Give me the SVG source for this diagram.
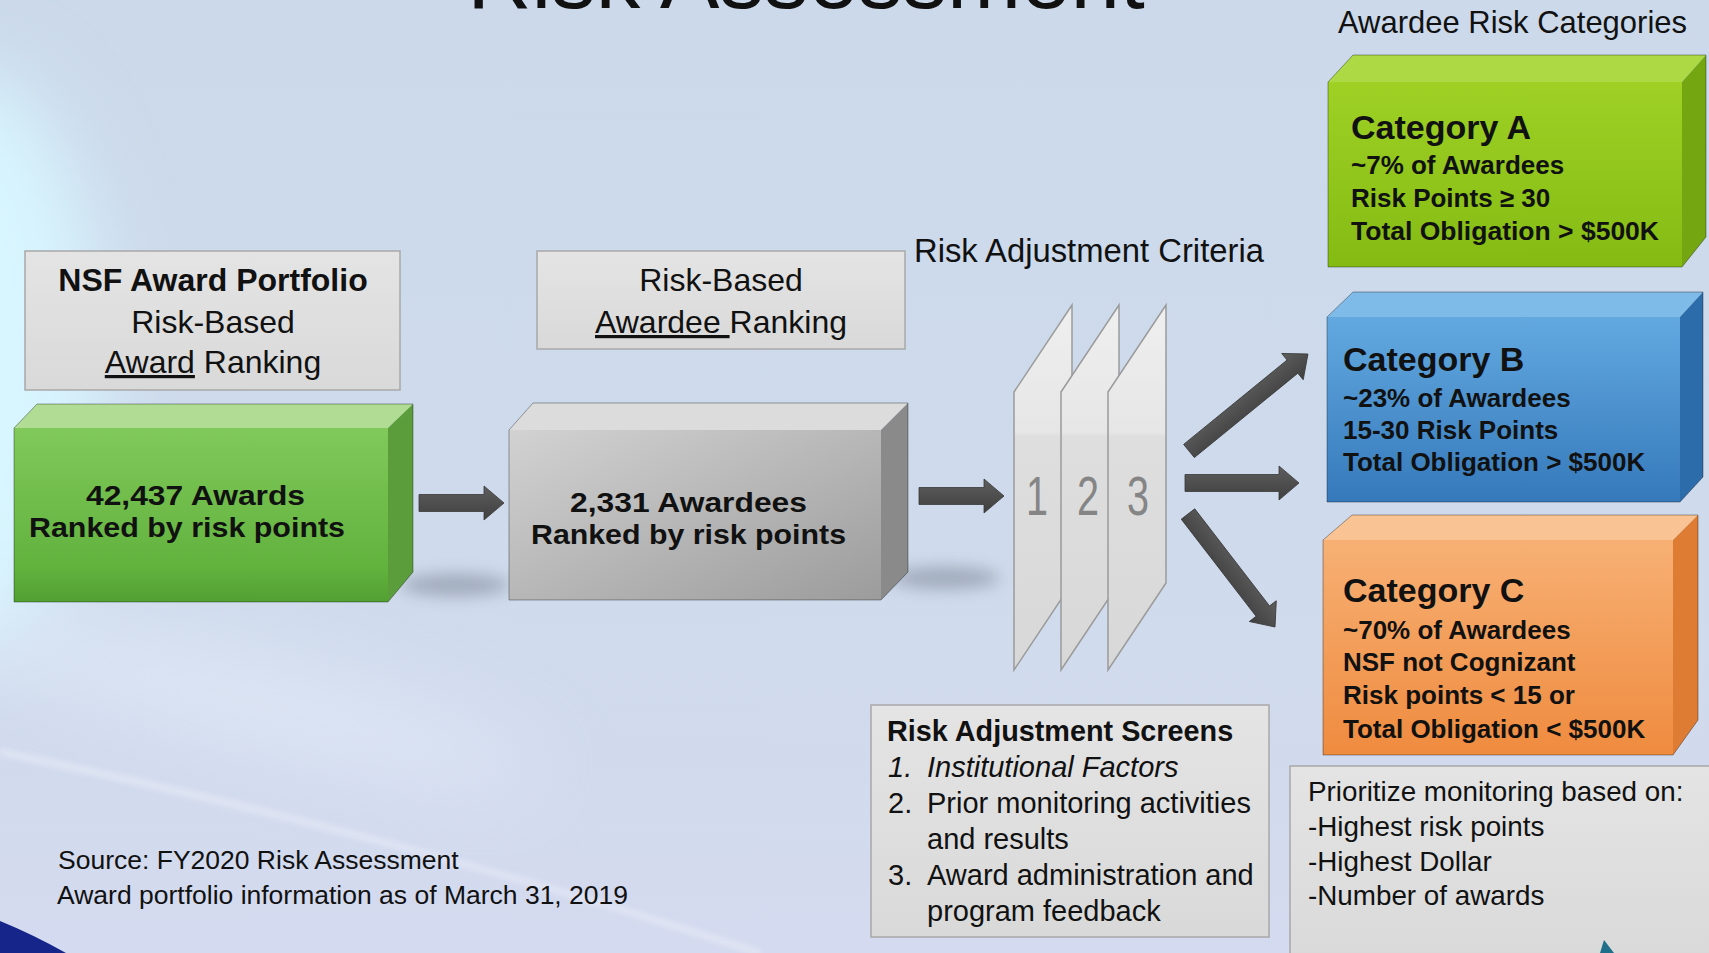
<svg xmlns="http://www.w3.org/2000/svg" width="1709" height="953" viewBox="0 0 1709 953">
<defs>
<style>
.t{font-family:"Liberation Sans",Arial,sans-serif;fill:#111}
.b{font-weight:bold}
.lbl{fill:url(#gLabel);stroke:#a8a8a8;stroke-width:1.5}
.arrow{fill:url(#gArrow);stroke:#383838;stroke-width:0.8}
.panel{fill:url(#gPanel);stroke:#9a9a9a;stroke-width:1.5}
.num{font-family:"Liberation Sans",Arial,sans-serif;fill:#858585;font-size:55px}
.edge{fill:none;stroke:#000;stroke-opacity:0.35;stroke-width:1}
.ul{text-decoration:underline}
</style>
<linearGradient id="gBg" x1="0" y1="0" x2="0" y2="1">
<stop offset="0" stop-color="#cbd9ea"/>
<stop offset="0.6" stop-color="#cfdbec"/>
<stop offset="1" stop-color="#d4daef"/>
</linearGradient>
<linearGradient id="gLabel" x1="0" y1="0" x2="0" y2="1">
<stop offset="0" stop-color="#e4e4e4"/>
<stop offset="1" stop-color="#d9d9d9"/>
</linearGradient>
<linearGradient id="gArrow" x1="0" y1="0" x2="0" y2="1">
<stop offset="0" stop-color="#5e5e5e"/>
<stop offset="1" stop-color="#3f3f3f"/>
</linearGradient>
<linearGradient id="gPanel" x1="0" y1="0" x2="0" y2="1">
<stop offset="0" stop-color="#efefef"/>
<stop offset="0.35" stop-color="#e6e6e6"/>
<stop offset="0.36" stop-color="#dedede"/>
<stop offset="1" stop-color="#d8d8d8"/>
</linearGradient>
<linearGradient id="gGreenF" x1="0" y1="0" x2="0" y2="1">
<stop offset="0" stop-color="#80c95a"/>
<stop offset="0.8" stop-color="#62b23e"/>
<stop offset="1" stop-color="#52a032"/>
</linearGradient>
<linearGradient id="gGrayF" x1="0" y1="0" x2="1" y2="1">
<stop offset="0" stop-color="#d2d2d2"/>
<stop offset="1" stop-color="#9c9c9c"/>
</linearGradient>
<linearGradient id="gAF" x1="0" y1="0" x2="0" y2="1">
<stop offset="0" stop-color="#9fd125"/>
<stop offset="1" stop-color="#84bb13"/>
</linearGradient>
<linearGradient id="gBF" x1="0" y1="0" x2="0" y2="1">
<stop offset="0" stop-color="#63a9e0"/>
<stop offset="1" stop-color="#3579bb"/>
</linearGradient>
<linearGradient id="gCF" x1="0" y1="0" x2="0" y2="1">
<stop offset="0" stop-color="#f7b074"/>
<stop offset="1" stop-color="#ef8b3f"/>
</linearGradient>
<filter id="blur40" x="-1" y="-1" width="3" height="3"><feGaussianBlur stdDeviation="40"/></filter>
<filter id="blur8" x="-1" y="-1" width="3" height="3"><feGaussianBlur stdDeviation="8"/></filter>
<filter id="blur3" x="-1" y="-1" width="3" height="3"><feGaussianBlur stdDeviation="3"/></filter>
</defs>

<!-- background -->
<rect x="0" y="0" width="1709" height="953" fill="url(#gBg)"/>
<ellipse cx="-40" cy="360" rx="140" ry="290" fill="#d8f6ff" filter="url(#blur40)"/>
<ellipse cx="250" cy="700" rx="300" ry="40" fill="#e6eefa" opacity="0.6" transform="rotate(14 250 700)" filter="url(#blur40)"/>
<path d="M0,752 Q380,830 760,953" fill="none" stroke="#ffffff" stroke-width="4" opacity="0.5" filter="url(#blur3)"/>
<path d="M0,921 Q32,934 66,953 L0,953 Z" fill="#15258a"/>

<!-- title (cropped at top edge, as in the reference) -->
<text class="t" x="806" y="8" font-size="89" text-anchor="middle">Risk Assessment</text>

<!-- shadows -->
<ellipse cx="455" cy="585" rx="55" ry="11" fill="#4a5060" opacity="0.35" filter="url(#blur8)"/>
<ellipse cx="945" cy="578" rx="55" ry="11" fill="#4a5060" opacity="0.35" filter="url(#blur8)"/>

<g id="label-award-ranking">
<rect class="lbl" x="25" y="251" width="375" height="139"/>
<text class="t b" x="213" y="291" font-size="32" text-anchor="middle">NSF Award Portfolio</text>
<text class="t" x="213" y="333" font-size="32" text-anchor="middle">Risk-Based</text>
<text class="t" x="213" y="373" font-size="32" text-anchor="middle"><tspan class="ul">Award</tspan> Ranking</text>
</g>

<g id="label-awardee-ranking">
<rect class="lbl" x="537" y="251" width="368" height="98"/>
<text class="t" x="721" y="291" font-size="32" text-anchor="middle">Risk-Based</text>
<text class="t" x="721" y="333" font-size="32" text-anchor="middle"><tspan class="ul">Awardee </tspan>Ranking</text>
</g>

<g id="box-awards">
<rect x="14" y="428" width="374" height="174" fill="url(#gGreenF)"/>
<polygon points="14,428 37,404 413,404 388,428" fill="#b0dc93"/>
<polygon points="388,428 413,404 413,572 388,602" fill="#5b9d3b"/>
<polygon class="edge" points="14,428 37,404 413,404 413,572 388,602 14,602"/>
<text class="t b" x="86" y="505" font-size="28" textLength="219" lengthAdjust="spacingAndGlyphs" fill="#1c2a12">42,437 Awards</text>
<text class="t b" x="29" y="537" font-size="28" textLength="316" lengthAdjust="spacingAndGlyphs" fill="#1c2a12">Ranked by risk points</text>
</g>

<g id="box-awardees">
<rect x="509" y="430" width="372" height="170" fill="url(#gGrayF)"/>
<polygon points="509,430 533,403 908,403 881,430" fill="#dcdcdc"/>
<polygon points="881,430 908,403 908,572 881,600" fill="#8a8a8a"/>
<polygon class="edge" points="509,430 533,403 908,403 908,572 881,600 509,600"/>
<text class="t b" x="570" y="512" font-size="28" textLength="237" lengthAdjust="spacingAndGlyphs">2,331 Awardees</text>
<text class="t b" x="531" y="544" font-size="28" textLength="315" lengthAdjust="spacingAndGlyphs">Ranked by risk points</text>
</g>

<g id="criteria-label">
<text class="t" x="914" y="262" font-size="32.8">Risk Adjustment Criteria</text>
</g>

<g id="criteria-panels">
<polygon class="panel" points="1014,392 1072,305 1072,583 1014,670"/>
<polygon class="panel" points="1061,392 1119,305 1119,583 1061,670"/>
<polygon class="panel" points="1108,392 1166,305 1166,583 1108,670"/>
<text class="num" text-anchor="middle" transform="translate(1037,515) scale(0.72,1)">1</text>
<text class="num" text-anchor="middle" transform="translate(1088,515) scale(0.72,1)">2</text>
<text class="num" text-anchor="middle" transform="translate(1138,515) scale(0.72,1)">3</text>
</g>

<g id="categories-title">
<text class="t" x="1338" y="33" font-size="32" textLength="349" lengthAdjust="spacingAndGlyphs">Awardee Risk Categories</text>
</g>

<g id="category-a">
<rect x="1328" y="82" width="354" height="185" fill="url(#gAF)"/>
<polygon points="1328,82 1353,55 1706,55 1682,82" fill="#acd944"/>
<polygon points="1682,82 1706,55 1706,237 1682,267" fill="#74a611"/>
<polygon class="edge" points="1328,82 1353,55 1706,55 1706,237 1682,267 1328,267"/>
<text class="t b" x="1351" y="139" font-size="34">Category A</text>
<text class="t b" x="1351" y="174" font-size="26">~7% of Awardees</text>
<text class="t b" x="1351" y="207" font-size="26">Risk Points ≥ 30</text>
<text class="t b" x="1351" y="240" font-size="26.5">Total Obligation &gt; $500K</text>
</g>

<g id="category-b">
<rect x="1327" y="317" width="353" height="185" fill="url(#gBF)"/>
<polygon points="1327,317 1353,292 1703,292 1680,317" fill="#7fbbe8"/>
<polygon points="1680,317 1703,292 1703,477 1680,502" fill="#2d6cab"/>
<polygon class="edge" points="1327,317 1353,292 1703,292 1703,477 1680,502 1327,502"/>
<text class="t b" x="1343" y="371" font-size="34">Category B</text>
<text class="t b" x="1343" y="407" font-size="26">~23% of Awardees</text>
<text class="t b" x="1343" y="439" font-size="26">15-30 Risk Points</text>
<text class="t b" x="1343" y="471" font-size="26">Total Obligation &gt; $500K</text>
</g>

<g id="category-c">
<rect x="1323" y="540" width="350" height="215" fill="url(#gCF)"/>
<polygon points="1323,540 1352,515 1698,515 1673,540" fill="#f9c393"/>
<polygon points="1673,540 1698,515 1698,720 1673,755" fill="#df7c33"/>
<polygon class="edge" points="1323,540 1352,515 1698,515 1698,720 1673,755 1323,755"/>
<text class="t b" x="1343" y="602" font-size="34">Category C</text>
<text class="t b" x="1343" y="639" font-size="26">~70% of Awardees</text>
<text class="t b" x="1343" y="671" font-size="26">NSF not Cognizant</text>
<text class="t b" x="1343" y="704" font-size="26">Risk points &lt; 15 or</text>
<text class="t b" x="1343" y="738" font-size="26">Total Obligation &lt; $500K</text>
</g>

<g id="screens-box">
<rect class="lbl" x="871" y="705" width="398" height="232"/>
<text class="t b" x="887" y="741" font-size="28.8">Risk Adjustment Screens</text>
<text class="t" x="888" y="777" font-size="29" font-style="italic">1.</text>
<text class="t" x="927" y="777" font-size="29" font-style="italic">Institutional Factors</text>
<text class="t" x="888" y="813" font-size="29">2.</text>
<text class="t" x="927" y="813" font-size="29">Prior monitoring activities</text>
<text class="t" x="927" y="849" font-size="29">and results</text>
<text class="t" x="888" y="885" font-size="29">3.</text>
<text class="t" x="927" y="885" font-size="29">Award administration and</text>
<text class="t" x="927" y="921" font-size="29">program feedback</text>
</g>

<g id="prioritize-box">
<rect class="lbl" x="1290" y="766" width="440" height="200"/>
<text class="t" x="1308" y="801" font-size="27.8">Prioritize monitoring based on:</text>
<text class="t" x="1308" y="836" font-size="27.8">-Highest risk points</text>
<text class="t" x="1308" y="871" font-size="27.8">-Highest Dollar</text>
<text class="t" x="1308" y="905" font-size="27.8">-Number of awards</text>
<polygon points="1604,940 1614,953 1600,953" fill="#1f6f8a"/>
</g>

<g id="source-note">
<text class="t" x="58" y="869" font-size="26.5">Source: FY2020 Risk Assessment</text>
<text class="t" x="57" y="904" font-size="26.5">Award portfolio information as of March 31, 2019</text>
</g>

<g id="connectors">
<path class="arrow" d="M419,494.5 H484 V486 L504,503 L484,520 V511.5 H419 Z"/>
<path class="arrow" d="M919,487.5 H984 V479 L1004,496 L984,513 V504.5 H919 Z"/>
<path class="arrow" transform="translate(1189,451) rotate(-39.2)" d="M0,-8.5 H133.5 V-17 L153.5,0 L133.5,17 V8.5 H0 Z"/>
<path class="arrow" d="M1185,474.5 H1279 V466 L1299,483 L1279,500 V491.5 H1185 Z"/>
<path class="arrow" transform="translate(1188,514) rotate(52.4)" d="M0,-8.5 H122.6 V-17 L142.6,0 L122.6,17 V8.5 H0 Z"/>
</g>
</svg>
